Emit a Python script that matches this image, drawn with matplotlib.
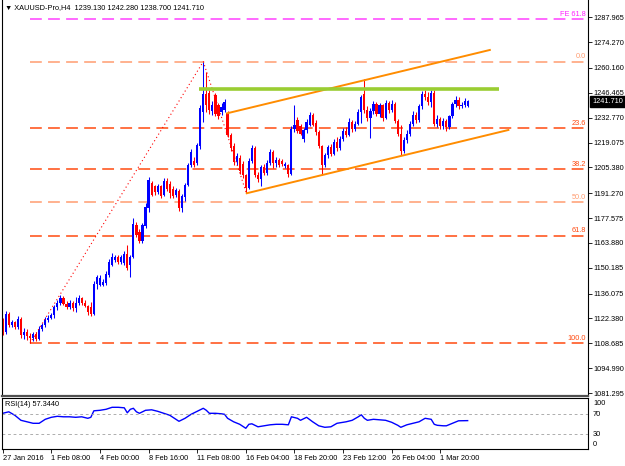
import matplotlib.pyplot as plt
import matplotlib.transforms as mtransforms
import numpy as np

plt.rcParams['font.family'] = ['Liberation Sans', 'DejaVu Sans']
plt.rcParams['lines.scale_dashes'] = False

# H4 candles, 27 Jan 2016 -> 2 Mar 2016
opens = [1120.0, 1115.0, 1124.8, 1118.5, 1120.3, 1117.6, 1122.0, 1113.0, 1115.0, 1112.5,
         1111.5, 1113.8, 1111.2, 1116.5, 1118.8, 1121.5, 1122.8, 1124.5, 1128.5, 1131.0,
         1133.5, 1130.5, 1128.5, 1131.0, 1128.0, 1130.8, 1133.5, 1131.0, 1129.0, 1128.5,
         1125.0, 1141.5, 1141.0, 1141.0, 1142.0, 1146.0, 1152.0, 1154.5, 1156.0, 1153.5,
         1153.0, 1158.0, 1151.5, 1156.0, 1174.0, 1170.0, 1165.0, 1173.0, 1183.0, 1197.0,
         1195.0, 1192.0, 1195.0, 1190.0, 1198.0, 1196.5, 1193.5, 1190.0, 1192.5, 1183.0,
         1189.0, 1195.5, 1206.5, 1209.0, 1208.0, 1217.0, 1236.0, 1246.0, 1246.5, 1236.5,
         1245.0, 1239.5, 1236.0, 1237.0, 1235.5, 1223.0, 1217.0, 1208.5, 1210.5, 1207.5,
         1201.0, 1194.0, 1209.0, 1216.0, 1201.0, 1199.0, 1205.5, 1202.5, 1208.0, 1214.0,
         1208.0, 1209.5, 1209.0, 1206.0, 1206.5, 1202.0, 1226.5, 1231.5, 1228.0, 1221.0,
         1226.0, 1229.0, 1234.5, 1230.0, 1225.0, 1217.0, 1207.0, 1212.0, 1216.5, 1213.0,
         1219.5, 1216.0, 1221.0, 1225.5, 1223.5, 1230.5, 1226.5, 1229.5, 1236.0, 1246.0,
         1237.0, 1232.5, 1236.5, 1240.5, 1235.0, 1239.5, 1232.5, 1241.0, 1237.0, 1240.5,
         1231.0, 1224.0, 1214.5, 1220.5, 1224.0, 1229.5, 1234.5, 1231.5, 1239.0, 1246.0,
         1244.0, 1241.5, 1246.5, 1229.5, 1232.0, 1228.0, 1231.0, 1227.5, 1233.5, 1240.5,
         1242.5, 1239.0, 1239.5, 1239.13]
highs = [1122.5, 1126.5, 1126.0, 1121.5, 1121.0, 1123.5, 1123.0, 1117.0, 1116.5, 1114.5,
         1115.0, 1115.0, 1118.0, 1120.0, 1123.0, 1124.0, 1125.5, 1130.0, 1132.5, 1135.0,
         1134.5, 1131.8, 1132.5, 1131.8, 1134.0, 1135.5, 1134.0, 1132.5, 1130.0, 1131.5,
         1143.0, 1146.5, 1146.0, 1144.0, 1148.5, 1155.0, 1158.5, 1157.0, 1157.0, 1157.0,
         1159.5, 1163.0, 1157.5, 1177.5, 1175.5, 1171.5, 1175.0, 1186.0, 1200.0, 1198.0,
         1196.0, 1196.5, 1196.0, 1199.5, 1199.5, 1198.0, 1195.0, 1194.0, 1193.5, 1191.0,
         1197.0, 1208.0, 1215.5, 1211.0, 1219.0, 1240.0, 1263.6, 1258.0, 1248.0, 1242.0,
         1246.5, 1241.0, 1241.0, 1243.0, 1236.5, 1224.5, 1219.0, 1213.5, 1212.0, 1209.0,
         1202.0, 1210.5, 1217.5, 1217.0, 1203.0, 1206.5, 1207.5, 1209.5, 1215.5, 1215.0,
         1211.0, 1210.5, 1210.0, 1208.5, 1207.5, 1228.0, 1239.8, 1233.0, 1229.5, 1227.0,
         1232.0, 1236.0, 1235.5, 1231.5, 1226.0, 1218.0, 1213.5, 1218.0, 1218.5, 1221.0,
         1222.0, 1222.5, 1227.0, 1227.5, 1232.5, 1231.5, 1231.0, 1237.5, 1245.5, 1253.8,
         1239.0, 1238.0, 1242.0, 1241.5, 1241.0, 1240.5, 1242.5, 1242.0, 1242.5, 1241.5,
         1232.0, 1229.0, 1222.0, 1226.0, 1231.0, 1236.5, 1236.0, 1240.5, 1247.5, 1248.2,
         1247.0, 1248.0, 1248.0, 1234.5, 1233.0, 1232.5, 1232.0, 1234.5, 1241.5, 1244.5,
         1244.0, 1241.5, 1243.5, 1242.28]
lows = [1113.5, 1113.8, 1117.5, 1117.5, 1116.5, 1116.8, 1111.8, 1111.0, 1110.5, 1108.7,
        1110.0, 1110.0, 1110.3, 1115.5, 1117.5, 1120.5, 1121.8, 1122.5, 1127.0, 1129.8,
        1129.5, 1127.5, 1127.8, 1126.5, 1126.0, 1129.5, 1130.0, 1128.8, 1124.5, 1123.5,
        1124.5, 1138.5, 1140.0, 1140.0, 1141.0, 1145.0, 1151.0, 1153.5, 1152.5, 1152.5,
        1151.5, 1149.0, 1145.0, 1155.5, 1167.0, 1164.0, 1164.0, 1172.0, 1181.0, 1189.5,
        1190.5, 1191.0, 1188.5, 1189.5, 1192.5, 1188.5, 1188.5, 1189.0, 1181.5, 1181.0,
        1187.0, 1195.0, 1205.5, 1205.5, 1207.0, 1215.5, 1230.5, 1236.0, 1235.0, 1234.5,
        1233.5, 1232.0, 1234.5, 1236.0, 1222.0, 1214.5, 1206.5, 1207.0, 1202.0, 1199.5,
        1191.2, 1193.5, 1208.0, 1200.0, 1197.5, 1195.0, 1201.0, 1201.5, 1206.5, 1205.0,
        1205.5, 1205.5, 1206.0, 1205.0, 1200.0, 1201.5, 1225.0, 1224.5, 1223.0, 1219.5,
        1224.5, 1228.0, 1228.0, 1223.5, 1216.0, 1201.5, 1205.5, 1210.5, 1211.5, 1212.0,
        1214.5, 1215.0, 1220.0, 1222.0, 1222.5, 1225.0, 1225.5, 1228.5, 1230.0, 1235.5,
        1231.0, 1221.5, 1235.0, 1233.5, 1233.0, 1231.0, 1232.0, 1235.5, 1236.0, 1230.0,
        1222.5, 1212.0, 1213.5, 1219.0, 1222.5, 1228.0, 1230.0, 1230.5, 1237.5, 1242.5,
        1240.0, 1238.5, 1228.0, 1227.5, 1226.5, 1226.5, 1225.5, 1226.5, 1232.5, 1238.5,
        1237.5, 1238.0, 1238.5, 1238.70]
closes = [1115.0, 1124.8, 1118.5, 1120.3, 1117.6, 1122.0, 1113.0, 1115.0, 1112.5, 1111.5,
          1113.8, 1111.2, 1116.5, 1118.8, 1121.5, 1122.8, 1124.5, 1128.5, 1131.0, 1133.5,
          1130.5, 1128.5, 1131.0, 1128.0, 1130.8, 1133.5, 1131.0, 1129.0, 1126.0, 1125.0,
          1141.5, 1145.0, 1144.5, 1142.5, 1147.0, 1153.5, 1156.0, 1156.0, 1153.5, 1156.0,
          1158.0, 1150.0, 1156.0, 1174.5, 1168.5, 1165.0, 1173.5, 1183.5, 1198.5, 1190.5,
          1192.0, 1195.0, 1189.5, 1198.0, 1193.5, 1191.5, 1189.5, 1193.0, 1183.0, 1189.5,
          1195.5, 1206.5, 1214.0, 1207.0, 1217.5, 1238.0, 1246.0, 1240.0, 1237.0, 1240.0,
          1235.0, 1233.5, 1238.5, 1241.5, 1223.0, 1216.0, 1208.5, 1211.5, 1203.5, 1201.0,
          1194.0, 1209.0, 1216.0, 1201.0, 1199.0, 1205.5, 1202.5, 1208.0, 1214.0, 1208.0,
          1209.5, 1207.0, 1207.5, 1207.5, 1202.0, 1226.5, 1229.0, 1225.5, 1224.0, 1226.0,
          1230.5, 1234.5, 1229.0, 1225.0, 1217.0, 1207.0, 1212.0, 1216.5, 1213.0, 1219.5,
          1216.0, 1221.0, 1225.5, 1223.5, 1230.5, 1226.5, 1229.5, 1236.0, 1244.0, 1237.0,
          1232.5, 1236.5, 1240.5, 1235.0, 1239.5, 1232.5, 1241.0, 1237.0, 1240.5, 1231.0,
          1224.0, 1214.5, 1220.5, 1224.0, 1229.5, 1234.5, 1231.5, 1239.0, 1246.0, 1244.0,
          1241.5, 1246.5, 1229.5, 1232.0, 1228.0, 1231.0, 1227.5, 1233.5, 1240.5, 1242.5,
          1239.0, 1239.5, 1242.0, 1241.71]

time_ticks = [0, 16, 32, 48, 64, 80, 96, 112, 128, 144]
time_labels = ['27 Jan 2016', '1 Feb 08:00', '4 Feb 00:00', '8 Feb 16:00', '11 Feb 08:00',
               '16 Feb 04:00', '18 Feb 20:00', '23 Feb 12:00', '26 Feb 04:00', '1 Mar 20:00']
price_ticks = [1287.965, 1274.270, 1260.160, 1246.465, 1232.770, 1219.075, 1205.380, 1191.270,
               1177.575, 1163.880, 1150.185, 1136.075, 1122.380, 1108.685, 1094.990, 1081.295]

# RSI(14) read at sample bars
rsi_bars = [0, 2, 4, 6, 8, 10, 12, 14, 16, 18, 20, 22, 24, 26, 28, 29, 30, 32, 34, 36, 38, 40,
            41, 42, 43, 44, 45, 47, 49, 51, 53, 55, 57, 58, 60, 62, 64, 66, 67, 68, 70, 72, 73,
            74, 76, 78, 80, 81, 82, 84, 86, 88, 90, 92, 94, 95, 97, 98, 100, 102, 104, 106, 108,
            110, 113, 115, 117, 118, 119, 120, 122, 124, 126, 128, 130, 131, 133, 135, 137, 139,
            141, 142, 143, 145, 146, 148, 150, 153]
rsi_vals = [72, 75, 68, 58, 55, 52, 52, 60, 64, 66, 65, 65, 64, 65, 62, 64, 77, 78, 80, 84, 84, 83,
            73, 80, 82, 75, 72, 78, 79, 76, 72, 68, 60, 56, 62, 70, 76, 82, 78, 72, 72, 71, 70,
            62, 55, 50, 42, 50, 51, 45, 47, 49, 50, 50, 49, 65, 62, 58, 64, 55, 47, 44, 45,
            52, 55, 58, 65, 69, 62, 58, 60, 59, 58, 54, 48, 44, 49, 52, 55, 62,
            60, 50, 48, 47, 47, 52, 57, 57.344]

# drawing objects
fib_top = 1263.6      # 11 Feb high
fib_bottom = 1108.7   # 28 Jan low
fib_start = 9
fib_ratios = [0.0, 23.6, 38.2, 50.0, 61.8, 100.0]
fib_colors = ['#FF9C70', '#FF4A10', '#FF4A10', '#FF9C70', '#FF4A10', '#FF4A10']
fe_level = 1286.9
zig_x = [9, 66, 80.2]
zig_y = [1108.7, 1263.6, 1191.2]
upper_x = [73.9, 160.3]
upper_y = [1235.2, 1270.0]
lower_x = [80.3, 166.4]
lower_y = [1191.2, 1226.0]
res_x = [64.7, 163.3]
res_y = [1248.4, 1248.4]

fig = plt.figure(figsize=(6.25, 4.66), dpi=100)
W, H = 625, 466
ax = fig.add_axes([2 / W, 1 - 396 / H, 586 / W, 396 / H])
ax2 = fig.add_axes([2 / W, 1 - 449 / H, 586 / W, 51 / H])

xmin, xmax = -0.23, 192.6
fs = 5.3

# fib levels
dash = (0, (8.5, 4.5))
for r, c in zip(fib_ratios, fib_colors):
    lvl = fib_top - r / 100 * (fib_top - fib_bottom)
    ax.hlines(lvl, fib_start, xmax, colors=c, linestyles=[dash], lw=1.1, zorder=1)
    ax.text(0.997, lvl + 0.8, '%.1f' % r, transform=mtransforms.blended_transform_factory(ax.transAxes, ax.transData),
            ha='right', va='bottom', fontsize=fs, color=c)
ax.hlines(fe_level, fib_start, xmax, colors='#FF40FF', linestyles=[dash], lw=1.1, zorder=1)
ax.text(0.997, fe_level + 0.8, 'FE 61.8', transform=mtransforms.blended_transform_factory(ax.transAxes, ax.transData),
        ha='right', va='bottom', fontsize=fs, color='#FF20FF')

# candles
o = np.array(opens); h = np.array(highs); l = np.array(lows); c = np.array(closes)
idx = np.arange(len(c))
col = np.where(c >= o, '#0000FF', '#FF0000')
ax.vlines(idx, l, h, colors=col, lw=0.75, zorder=2)
body = np.maximum(np.abs(c - o), 0.5)
ax.bar(idx, body, bottom=np.minimum(o, c), width=0.72, color=col, linewidth=0, zorder=2)

# zigzag, channel, resistance
ax.plot(zig_x, zig_y, color='#FF0000', lw=0.8, linestyle=(0, (0.8, 2.0)), zorder=3)
ax.plot(upper_x, upper_y, color='#FF8C00', lw=1.4, zorder=4)
ax.plot(lower_x, lower_y, color='#FF8C00', lw=1.4, zorder=4)
ax.plot(res_x, res_y, color='#9ACD32', lw=2.6, zorder=4, solid_capstyle='butt')

ax.set_xlim(xmin, xmax)
ax.set_ylim(1079.71, 1297.48)
ax.yaxis.tick_right()
ax.set_yticks(price_ticks)
ax.set_yticklabels(['%.3f' % p for p in price_ticks])
ax.tick_params(axis='y', direction='out', length=3, width=0.6, pad=1.2, labelsize=fs)
ax.set_xticks([])
for s in ['left', 'right']:
    ax.spines[s].set_linewidth(0.8)
ax.spines['top'].set_visible(False)
ax.spines['bottom'].set_linewidth(1.6)
ax.spines['bottom'].set_color('#505050')

# current price box
ax.text(1 + 4 / 586, closes[-1], '%.3f' % closes[-1],
        transform=mtransforms.blended_transform_factory(ax.transAxes, ax.transData),
        ha='left', va='center', fontsize=fs, color='white',
        bbox=dict(facecolor='black', edgecolor='black', pad=1.3))

fig.text(5 / W, 1 - 8 / H, '\u25bc XAUUSD-Pro,H4  1239.130 1242.280 1238.700 1241.710',
         ha='left', va='center', fontsize=fs)

# RSI panel
ax2.plot(rsi_bars, rsi_vals, color='#0000FF', lw=1.0)
for lv in [70, 30]:
    ax2.axhline(lv, color='#A0A0A0', lw=0.6, linestyle=(0, (2, 2)))
ax2.set_xlim(xmin, xmax)
ax2.set_ylim(0.6, 102.6)
ax2.set_yticks([])
ax2.set_xticks(time_ticks)
ax2.set_xticklabels(time_labels, ha='left')
ax2.tick_params(axis='x', direction='out', length=3, width=0.6, pad=1.5, labelsize=fs)
for s in ax2.spines.values():
    s.set_linewidth(0.8)
bt = mtransforms.blended_transform_factory(ax2.transAxes, ax2.transData)
for val, txt in [(92.6, '100'), (70, '70'), (30, '30'), (8.6, '0')]:
    ax2.text(1 + 5 / 586, val, txt, transform=bt, ha='left', va='center', fontsize=fs)
fig.text(5 / W, 1 - 405 / H, 'RSI(14) 57.3440', ha='left', va='center', fontsize=fs)

fig.savefig('out.png', dpi=100, facecolor='white')
